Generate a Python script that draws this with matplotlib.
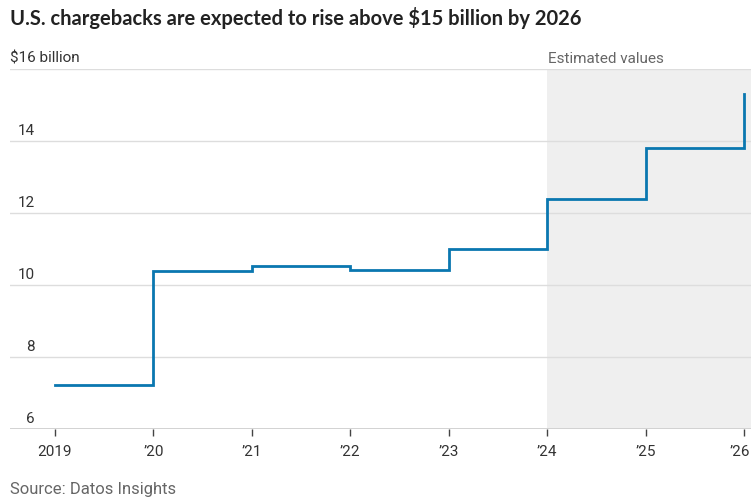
import matplotlib.pyplot as plt
import matplotlib.transforms as mtransforms

years = [2019, 2020, 2021, 2022, 2023, 2024, 2025, 2026]
values = [7.22, 10.4, 10.52, 10.42, 11.0, 12.4, 13.8, 15.3]
x_labels = ["2019", "\u201920", "\u201921", "\u201922", "\u201923", "\u201924", "\u201925", "\u201926"]
y_ticks = [6, 8, 10, 12, 14, 16]
y_labels = ["6", "8", "10", "12", "14", "$16 billion"]
estimate_start = 2024

LINE = "#0a77b0"
TEXT = "#333333"
GRID = "#dddddd"
FONT = ["Roboto", "DejaVu Sans"]

fig = plt.figure(figsize=(7.51, 5.02), dpi=100)
ax = fig.add_axes([10 / 751, 1 - 430 / 502, 741 / 751, 360 / 502])

ax.set_xlim(2018.543, 2026.07)
ax.set_ylim(6, 16)

# shaded estimate region
ax.axvspan(estimate_start, 2026.07, color="#efefef", zorder=0, lw=0)

# gridlines
for v in y_ticks[1:]:
    ax.axhline(v, color=GRID, lw=1.0, zorder=1)
ax.axhline(6, color="#cfcfcf", lw=1.3, zorder=1)

ax.step(years, values, where="post", color=LINE, lw=2.0, zorder=3,
        solid_joinstyle="miter")

for s in ax.spines.values():
    s.set_visible(False)
ax.set_yticks([])
ax.set_xticks(years)
ax.set_xticklabels(x_labels, fontsize=11, color=TEXT, family=FONT)
ax.tick_params(axis="x", length=5, width=1, color="#444444", pad=6)

# keep the last label inside the figure
last = ax.get_xticklabels()[-1]
last.set_transform(last.get_transform() + mtransforms.ScaledTranslation(-4 / 100, 0, fig.dpi_scale_trans))

# y labels sit above gridlines
trans = mtransforms.blended_transform_factory(fig.transFigure, ax.transData)
for v, lab in zip(y_ticks, y_labels):
    if v == 16:
        ax.text(10 / 751, v + 0.12, lab, transform=trans, ha="left", va="bottom",
                fontsize=11, color=TEXT, family=FONT)
    else:
        ax.text(35 / 751, v + 0.12, lab, transform=trans, ha="right", va="bottom",
                fontsize=11, color=TEXT, family=FONT)

ax.text(estimate_start + 0.01, 16.12, "Estimated values", ha="left", va="bottom",
        fontsize=11, color="#666666", family=FONT)

fig.text(10 / 751, 1 - 18 / 502, "U.S. chargebacks are expected to rise above $15 billion by 2026",
         ha="left", va="center", fontsize=14.5, fontweight="bold", color="#222222",
         family=["Lato", "DejaVu Sans"])
fig.text(10 / 751, 1 - 490 / 502, "Source: Datos Insights", ha="left", va="center",
         fontsize=12, color="#666666", family=FONT)

fig.savefig("out.png", dpi=100)
